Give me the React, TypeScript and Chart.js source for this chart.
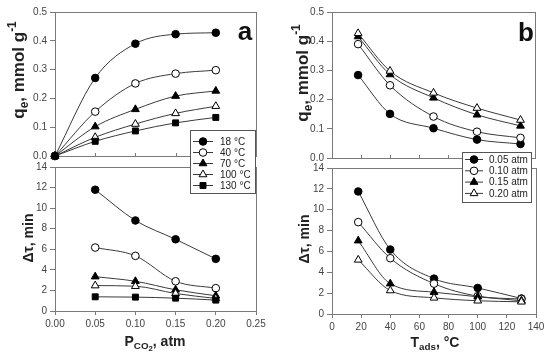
import React, { useEffect, useRef } from "react";
import { Chart, registerables } from "chart.js";

Chart.register(...registerables);

// ---------- data ----------
const pressures = [0, 0.05, 0.1, 0.15, 0.2];
const qe18 = [0, 0.271, 0.39, 0.423, 0.428];
const qe40 = [0, 0.154, 0.252, 0.286, 0.298];
const qe70 = [0, 0.102, 0.162, 0.208, 0.226];
const qe100 = [0, 0.065, 0.111, 0.148, 0.173];
const qe130 = [0, 0.051, 0.087, 0.115, 0.134];

const pressuresDt = [0.05, 0.1, 0.15, 0.2];
const dt18 = [11.79, 8.8, 6.97, 5.07];
const dt40 = [6.17, 5.36, 2.89, 2.22];
const dt70 = [3.34, 2.89, 2.06, 1.48];
const dt100 = [2.47, 2.41, 1.7, 1.22];
const dt130 = [1.38, 1.35, 1.25, 1.06];

const temps = [18, 40, 70, 100, 130];
const qeP005 = [0.284, 0.151, 0.102, 0.063, 0.048];
const qeP010 = [0.39, 0.249, 0.142, 0.09, 0.069];
const qeP015 = [0.416, 0.286, 0.206, 0.148, 0.11];
const qeP020 = [0.427, 0.298, 0.223, 0.171, 0.13];

const dtP005 = [11.75, 6.18, 3.39, 2.5, 1.49];
const dtP010 = [8.81, 5.35, 2.91, 1.71, 1.43];
const dtP015 = [7.03, 2.91, 2.09, 1.65, 1.27];
const dtP020 = [5.19, 2.25, 1.55, 1.27, 1.17];

const tempLabels = ["18 °C", "40 °C", "70 °C", "100 °C", "130 °C"];
const pressureLabels = ["0.05 atm", "0.10 atm", "0.15 atm", "0.20 atm"];
const tempMarkers = ["fc", "oc", "ft", "ot", "fs"];
const pressureMarkers = ["fc", "oc", "ft", "ot"];

// ---------- styling helpers ----------
const FONT = '"Liberation Sans", Arial, Helvetica, sans-serif';
const AXIS = "#7a7a7a";
const TICK = "#444";
const TEXT = "#222";
const LINE = "#3a3a3a";

Chart.defaults.font.family = FONT;

type Part = { t: string; k?: "sub" | "sup" | "sub2" };

function drawRich(
  ctx: CanvasRenderingContext2D,
  parts: Part[],
  cx: number,
  cy: number,
  size: number,
  rotate: boolean
) {
  ctx.save();
  ctx.translate(cx, cy);
  if (rotate) ctx.rotate(-Math.PI / 2);
  const sz = (k?: string) => (k === "sub2" ? size * 0.55 : k ? size * 0.7 : size);
  const fontFor = (k?: string) => `bold ${sz(k)}px ${FONT}`;
  let total = 0;
  const widths = parts.map((p) => {
    ctx.font = fontFor(p.k);
    const w = ctx.measureText(p.t).width;
    total += w;
    return w;
  });
  let x = -total / 2;
  ctx.textBaseline = "middle";
  ctx.textAlign = "left";
  ctx.fillStyle = TEXT;
  parts.forEach((p, i) => {
    ctx.font = fontFor(p.k);
    const dy =
      p.k === "sub" ? size * 0.32 : p.k === "sub2" ? size * 0.5 : p.k === "sup" ? -size * 0.38 : 0;
    ctx.fillText(p.t, x, dy);
    x += widths[i];
  });
  ctx.restore();
}

function drawMarker(ctx: CanvasRenderingContext2D, kind: string, x: number, y: number) {
  const filled = kind[0] === "f";
  ctx.beginPath();
  if (kind[1] === "c") ctx.arc(x, y, 3.8, 0, Math.PI * 2);
  else if (kind[1] === "t") {
    const r = 4.5;
    ctx.moveTo(x, y - r);
    ctx.lineTo(x + r * 0.866, y + r * 0.5);
    ctx.lineTo(x - r * 0.866, y + r * 0.5);
    ctx.closePath();
  } else {
    const s = 4.2 * Math.SQRT1_2;
    ctx.rect(x - s, y - s, 2 * s, 2 * s);
  }
  ctx.fillStyle = filled ? "#000" : "#fff";
  ctx.fill();
  ctx.strokeStyle = "#000";
  ctx.lineWidth = 1;
  ctx.stroke();
}

function drawLegend(
  ctx: CanvasRenderingContext2D,
  box: { x: number; y: number; w: number; h: number },
  labels: string[],
  markers: string[],
  firstY: number,
  dy: number,
  lineX1: number,
  lineX2: number,
  textX: number
) {
  ctx.save();
  ctx.fillStyle = "#fff";
  ctx.fillRect(box.x, box.y, box.w, box.h);
  ctx.strokeStyle = "#555";
  ctx.lineWidth = 1;
  ctx.strokeRect(box.x + 0.5, box.y + 0.5, box.w, box.h);
  labels.forEach((lab, i) => {
    const y = firstY + i * dy;
    ctx.beginPath();
    ctx.moveTo(lineX1, y + 0.5);
    ctx.lineTo(lineX2, y + 0.5);
    ctx.strokeStyle = LINE;
    ctx.lineWidth = 1;
    ctx.stroke();
    drawMarker(ctx, markers[i], (lineX1 + lineX2) / 2, y + 0.5);
    ctx.fillStyle = TEXT;
    ctx.font = `10px ${FONT}`;
    ctx.textBaseline = "middle";
    ctx.textAlign = "left";
    ctx.fillText(lab, textX, y + 1);
  });
  ctx.restore();
}

const qeTitle: Part[] = [{ t: "q" }, { t: "e", k: "sub" }, { t: ", mmol g" }, { t: "-1", k: "sup" }];
const dtTitle: Part[] = [{ t: "Δτ, min" }];
const pTitle: Part[] = [{ t: "P" }, { t: "CO", k: "sub" }, { t: "2", k: "sub2" }, { t: ", atm" }];
const tTitle: Part[] = [{ t: "T" }, { t: "ads", k: "sub" }, { t: ", °C" }];

// ---------- chart building ----------
type Axis = { min: number; max: number; step: number; dec: number };
type PanelSpec = {
  xs: number[];
  series: number[][];
  markers: string[];
  labels: string[];
  xAxis: Axis;
  yAxis: Axis;
  showX: boolean;
  pad: { top: number; right: number; bottom: number; left: number };
  yWidth: number;
  xHeight: number;
  decorate: (ctx: CanvasRenderingContext2D, chart: any) => void;
};

function makeDataset(xs: number[], data: number[], kind: string, label: string, i: number, n: number) {
  const filled = kind[0] === "f";
  const shape = kind[1] === "c" ? "circle" : kind[1] === "t" ? "triangle" : "rect";
  const r = shape === "circle" ? 3.8 : shape === "triangle" ? 4.5 : 4.2;
  return {
    label,
    data: xs.map((x, j) => ({ x, y: data[j] })),
    borderColor: LINE,
    borderWidth: 1,
    pointStyle: shape,
    pointRadius: r,
    pointBackgroundColor: filled ? "#000" : "#fff",
    pointBorderColor: "#000",
    pointBorderWidth: 1,
    cubicInterpolationMode: "monotone",
    fill: false,
    clip: false,
    order: n - i,
  };
}

function buildConfig(p: PanelSpec): any {
  const frame = {
    id: "frame",
    beforeDatasetsDraw(chart: any) {
      const { ctx, chartArea: a } = chart;
      ctx.save();
      ctx.strokeStyle = AXIS;
      ctx.lineWidth = 1;
      ctx.strokeRect(Math.round(a.left) + 0.5, Math.round(a.top) + 0.5, Math.round(a.right - a.left), Math.round(a.bottom - a.top));
      if (!p.showX) {
        const xs = chart.scales.x;
        for (let v = p.xAxis.min; v <= p.xAxis.max + 1e-9; v += p.xAxis.step) {
          const px = Math.round(xs.getPixelForValue(v)) + 0.5;
          ctx.beginPath();
          ctx.moveTo(px, a.bottom);
          ctx.lineTo(px, a.bottom - 3);
          ctx.stroke();
        }
      }
      ctx.restore();
    },
  };
  const decor = {
    id: "decor",
    afterDraw(chart: any) {
      p.decorate(chart.ctx, chart);
    },
  };
  return {
    type: "line",
    data: {
      datasets: p.series.map((s, i) => makeDataset(p.xs, s, p.markers[i], p.labels[i], i, p.series.length)),
    },
    options: {
      responsive: false,
      animation: false,
      devicePixelRatio: 1,
      events: [],
      layout: { padding: p.pad },
      plugins: { legend: { display: false }, tooltip: { enabled: false } },
      scales: {
        x: {
          type: "linear",
          min: p.xAxis.min,
          max: p.xAxis.max,
          ticks: {
            display: p.showX,
            stepSize: p.xAxis.step,
            autoSkip: false,
            maxRotation: 0,
            padding: 3,
            color: TICK,
            font: { size: 10, family: FONT },
            callback: (v: any) => Number(v).toFixed(p.xAxis.dec),
          },
          grid: { display: true, drawOnChartArea: false, drawTicks: p.showX, tickLength: 4, color: AXIS },
          border: { display: true, color: AXIS },
          afterFit: (s: any) => {
            s.height = p.xHeight;
          },
        },
        y: {
          type: "linear",
          min: p.yAxis.min,
          max: p.yAxis.max,
          ticks: {
            stepSize: p.yAxis.step,
            autoSkip: false,
            padding: 3,
            color: TICK,
            font: { size: 10, family: FONT },
            callback: (v: any) => Number(v).toFixed(p.yAxis.dec),
          },
          grid: { display: true, drawOnChartArea: false, drawTicks: true, tickLength: 5, color: AXIS },
          border: { display: true, color: AXIS },
          afterFit: (s: any) => {
            s.width = p.yWidth;
          },
        },
      },
    },
    plugins: [frame, decor],
  };
}

function ChartBox(props: { left: number; top: number; width: number; height: number; spec: PanelSpec }) {
  const ref = useRef<HTMLCanvasElement>(null);
  useEffect(() => {
    const chart = new Chart(ref.current as HTMLCanvasElement, buildConfig(props.spec));
    return () => chart.destroy();
  }, []);
  return (
    <canvas
      ref={ref}
      width={props.width}
      height={props.height}
      style={{ position: "absolute", left: props.left, top: props.top, width: props.width, height: props.height }}
    />
  );
}

// ---------- panels ----------
const panelATop: PanelSpec = {
  xs: pressures,
  series: [qe18, qe40, qe70, qe100, qe130],
  markers: tempMarkers,
  labels: tempLabels,
  xAxis: { min: 0, max: 0.25, step: 0.05, dec: 2 },
  yAxis: { min: 0, max: 0.5, step: 0.1, dec: 1 },
  showX: false,
  pad: { top: 12, right: 19, bottom: 10, left: 0 },
  yWidth: 55,
  xHeight: 0,
  decorate: (ctx) => {
    drawRich(ctx, qeTitle, 19, 70, 17, true);
    ctx.save();
    ctx.font = `bold 26px ${FONT}`;
    ctx.fillStyle = "#111";
    ctx.textAlign = "center";
    ctx.textBaseline = "alphabetic";
    ctx.fillText("a", 245, 40);
    ctx.restore();
  },
};

const panelABottom: PanelSpec = {
  xs: pressuresDt,
  series: [dt18, dt40, dt70, dt100, dt130],
  markers: tempMarkers,
  labels: tempLabels,
  xAxis: { min: 0, max: 0.25, step: 0.05, dec: 2 },
  yAxis: { min: 0, max: 14, step: 2, dec: 0 },
  showX: true,
  pad: { top: 47, right: 19, bottom: 0, left: 0 },
  yWidth: 55,
  xHeight: 49,
  decorate: (ctx) => {
    drawRich(ctx, dtTitle, 29, 118, 14, true);
    drawRich(ctx, pTitle, 155, 222, 14, false);
    drawLegend(ctx, { x: 190, y: 10, w: 65, h: 63 }, tempLabels, tempMarkers, 21, 11, 193, 213, 220);
  },
};

const panelBTop: PanelSpec = {
  xs: temps,
  series: [qeP005, qeP010, qeP015, qeP020],
  markers: pressureMarkers,
  labels: pressureLabels,
  xAxis: { min: 0, max: 140, step: 20, dec: 0 },
  yAxis: { min: 0, max: 0.5, step: 0.1, dec: 1 },
  showX: false,
  pad: { top: 12, right: 15, bottom: 10, left: 0 },
  yWidth: 57,
  xHeight: 0,
  decorate: (ctx) => {
    drawRich(ctx, qeTitle, 28, 73, 17, true);
    ctx.save();
    ctx.font = `bold 26px ${FONT}`;
    ctx.fillStyle = "#111";
    ctx.textAlign = "center";
    ctx.textBaseline = "alphabetic";
    ctx.fillText("b", 251, 41);
    ctx.restore();
  },
};

const panelBBottom: PanelSpec = {
  xs: temps,
  series: [dtP005, dtP010, dtP015, dtP020],
  markers: pressureMarkers,
  labels: pressureLabels,
  xAxis: { min: 0, max: 140, step: 20, dec: 0 },
  yAxis: { min: 0, max: 14, step: 2, dec: 0 },
  showX: true,
  pad: { top: 48, right: 14, bottom: 0, left: 0 },
  yWidth: 57,
  xHeight: 46,
  decorate: (ctx) => {
    drawRich(ctx, dtTitle, 30, 119, 14, true);
    drawRich(ctx, tTitle, 160, 223, 14, false);
    drawLegend(ctx, { x: 187, y: 32, w: 69, h: 50 }, pressureLabels, pressureMarkers, 39, 11.3, 190, 208, 214);
  },
};

export default function App() {
  return (
    <div
      style={{
        position: "fixed",
        left: 0,
        top: 0,
        width: 550,
        height: 360,
        background: "#fff",
        overflow: "hidden",
      }}
    >
      <ChartBox left={0} top={0} width={275} height={166} spec={panelATop} />
      <ChartBox left={275} top={0} width={275} height={168} spec={panelBTop} />
      <ChartBox left={0} top={120} width={275} height={240} spec={panelABottom} />
      <ChartBox left={275} top={120} width={275} height={240} spec={panelBBottom} />
    </div>
  );
}
